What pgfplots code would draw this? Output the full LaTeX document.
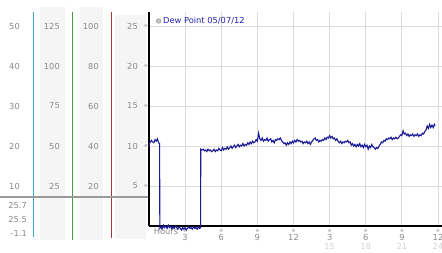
\documentclass[border=0pt]{standalone}
\usepackage{fontspec}
\setmainfont{DejaVu Sans}
\usepackage{pgfplots}
\pgfplotsset{compat=1.18}
\definecolor{lblgray}{HTML}{8A8A8A}
\definecolor{faint}{HTML}{D4D4D4}
\definecolor{gridc}{HTML}{DCDCDC}
\definecolor{colshade}{HTML}{F5F5F5}
\definecolor{colblue}{HTML}{3BA3D0}
\definecolor{colgreen}{HTML}{3FA33F}
\definecolor{colred}{HTML}{A83434}
\definecolor{hgray}{HTML}{9A9A9A}
\definecolor{navy}{HTML}{1A1A96}
\definecolor{legblue}{HTML}{2323A8}
\newcommand\lblfont{\fontsize{8.3}{10}\selectfont}
\newcommand\tkfont{\fontsize{4.5}{5}\selectfont}
\newcommand\xl[1]{\setbox0\hbox{#1}\hbox to \wd0{\hss\raisebox{7.5pt}[0pt][0pt]{\tkfont\textcolor{lblgray}{※}}\hss}\kern-\wd0\box0}
\pgfplotsset{
  leftcol/.style={
    scale only axis, width=1pt, height=214pt, anchor=south west,
    ymin=0, xmin=0, xmax=1, axis x line=none, axis y line=left,
    y axis line style={draw=none}, major tick length=0pt,
    yticklabel style={anchor=east, inner sep=0pt, text=lblgray, font=\lblfont},
  }
}
\begin{document}
\begin{tikzpicture}
\useasboundingbox (0pt,0pt) rectangle (442pt,253pt);
\fill[white] (0pt,0pt) rectangle (442pt,253pt);
% shaded columns
\fill[colshade] (40pt,13pt) rectangle (65pt,246pt);
\fill[colshade] (80pt,13pt) rectangle (103pt,246pt);
\fill[colshade] (115pt,14pt) rectangle (146pt,238pt);
% coloured separators
\draw[colblue, line width=1pt] (33pt,16pt) -- (33pt,241pt);
\draw[colgreen, line width=1pt] (72.5pt,13pt) -- (72.5pt,241pt);
\draw[colred, line width=1pt] (111pt,15pt) -- (111pt,241pt);
% gray horizontal line
\draw[hgray, line width=1.8pt] (0pt,56pt) -- (148pt,56pt);
% bottom values
\node[anchor=east, inner sep=0pt, text=lblgray, font=\lblfont] at (27pt,48pt) {25.7};
\node[anchor=east, inner sep=0pt, text=lblgray, font=\lblfont] at (27pt,34pt) {25.5};
\node[anchor=east, inner sep=0pt, text=lblgray, font=\lblfont] at (27pt,20pt) {-1.1};

\begin{axis}[leftcol, at={(20pt,27pt)}, ymax=53.5, ytick={10,20,30,40,50}, yticklabels={10,20,30,40,50}]
\end{axis}
\begin{axis}[leftcol, at={(60pt,27pt)}, ymax=133.75, ytick={25,50,75,100,125}, yticklabels={25,50,75,100,125}]
\end{axis}
\begin{axis}[leftcol, at={(99pt,27pt)}, ymax=107, ytick={20,40,60,80,100}, yticklabels={20,40,60,80,100}]
\end{axis}
\begin{axis}[leftcol, at={(138pt,27pt)}, ymax=26.75, ytick={5,10,15,20,25}, yticklabels={5,10,15,20,25}]
\end{axis}

\begin{axis}[
  scale only axis, width=293pt, height=214pt,
  at={(149pt,27pt)}, anchor=south west,
  xmin=0, xmax=24.33, ymin=0, ymax=26.75,
  clip=false,
  axis x line=bottom, axis y line=left,
  axis line style={-, black, line width=1.1pt},
  major tick length=0pt,
  xtick={3,6,9,12,15,18,21,24},
  xticklabels={\xl{3},\xl{6},\xl{9},\xl{12},\xl{3},\xl{6},\xl{9},\xl{12}},
  xticklabel style={anchor=north, inner sep=0pt, yshift=-8pt, text=lblgray, font=\lblfont},
  extra x ticks={15,18,21,24},
  extra x tick labels={15,18,21,24},
  extra x tick style={grid=none, xticklabel style={yshift=-9pt, text=faint}},
  ytick={5,10,15,20,25},
  yticklabels={※,※,※,※,※},
  yticklabel style={anchor=east, inner sep=0pt, xshift=-1pt, text=lblgray, font=\tkfont},
  xmajorgrids, ymajorgrids,
  major grid style={gridc, line width=0.9pt},
  legend style={at={(0.0239,0.958)}, anchor=west, draw=none, fill=none, inner sep=0pt,
    font=\lblfont, text=legblue, legend cell align=left},
  legend image code/.code={\draw[draw=gray!80, fill=gray!45, line width=0.6pt] (2.6pt,0pt) circle (2.2pt);},
]
\addplot[navy, line width=1.1pt, mark=none] coordinates {
(0.00,9.9) (0.05,10.3) (0.10,10.5) (0.20,10.7) (0.30,10.5) (0.40,10.4) (0.50,10.8) (0.60,10.6) (0.70,10.9) (0.80,10.4) (0.88,10.3)
(0.90,-0.3) (1.0,-0.1) (1.1,-0.4) (1.2,0.1) (1.3,-0.2) (1.4,0.0) (1.5,-0.3) (1.6,0.1) (1.7,-0.2) (1.8,0.0) (1.9,-0.4)
(2.0,-0.1) (2.1,-0.3) (2.2,0.0) (2.3,-0.2) (2.4,-0.4) (2.5,-0.1) (2.6,-0.3) (2.7,-0.5) (2.8,-0.2) (2.9,-0.4)
(3.0,-0.2) (3.1,-0.5) (3.2,-0.3) (3.3,-0.1) (3.4,-0.3) (3.5,-0.2) (3.6,-0.4) (3.7,-0.1) (3.8,-0.3) (3.9,-0.2)
(4.0,-0.4) (4.1,-0.1) (4.2,-0.3) (4.28,-0.2)
(4.30,9.6) (4.4,9.5) (4.5,9.6) (4.6,9.4) (4.7,9.5) (4.8,9.3) (4.9,9.6) (5.0,9.4) (5.1,9.5) (5.2,9.3) (5.3,9.4)
(5.4,9.6) (5.5,9.3) (5.6,9.5) (5.7,9.4) (5.8,9.7) (5.9,9.5) (6.0,9.4) (6.1,9.8) (6.2,9.5) (6.3,9.7) (6.4,9.6)
(6.5,9.9) (6.6,9.6) (6.7,9.8) (6.8,10.0) (6.9,9.7) (7.0,9.9) (7.1,10.1) (7.2,9.8) (7.3,10.0) (7.4,10.2) (7.5,9.9)
(7.6,10.1) (7.7,10.0) (7.8,10.3) (7.9,10.0) (8.0,10.2) (8.1,10.1) (8.2,10.4) (8.3,10.2) (8.4,10.5) (8.5,10.3)
(8.6,10.6) (8.7,10.4) (8.8,10.5) (8.9,10.8) (9.0,10.6) (9.1,11.6) (9.2,10.9) (9.3,10.7) (9.4,11.0) (9.5,10.6)
(9.6,10.8) (9.7,10.7) (9.8,11.0) (9.9,10.6) (10.0,10.8) (10.1,10.9) (10.2,10.5) (10.3,10.7) (10.4,10.4) (10.5,10.8)
(10.6,10.7) (10.7,10.9) (10.8,10.8) (10.9,11.0) (11.0,10.7) (11.1,10.5) (11.2,10.3) (11.3,10.4) (11.4,10.1)
(11.5,10.4) (11.6,10.2) (11.7,10.5) (11.8,10.3) (11.9,10.6) (12.0,10.4) (12.1,10.7) (12.2,10.5) (12.3,10.8)
(12.4,10.6) (12.5,10.7) (12.6,10.5) (12.7,10.6) (12.8,10.3) (12.9,10.5) (13.0,10.4) (13.1,10.6) (13.2,10.3)
(13.3,10.5) (13.4,10.2) (13.5,10.5) (13.6,10.7) (13.7,10.9) (13.8,11.0) (13.9,10.7) (14.0,10.8) (14.1,10.5)
(14.2,10.7) (14.3,10.6) (14.4,10.8) (14.5,10.7) (14.6,11.0) (14.7,10.8) (14.8,11.1) (14.9,11.0) (15.0,11.3)
(15.1,11.0) (15.2,11.2) (15.3,10.9) (15.4,11.0) (15.5,10.7) (15.6,10.9) (15.7,10.6) (15.8,10.4) (15.9,10.6)
(16.0,10.3) (16.1,10.5) (16.2,10.4) (16.3,10.6) (16.4,10.5) (16.5,10.7) (16.6,10.4) (16.7,10.5) (16.8,10.1)
(16.9,10.3) (17.0,10.0) (17.1,10.2) (17.2,9.9) (17.3,10.2) (17.4,10.0) (17.5,10.3) (17.6,9.9) (17.7,10.1)
(17.8,9.8) (17.9,10.2) (18.0,9.9) (18.1,10.1) (18.2,9.6) (18.3,10.0) (18.4,9.8) (18.5,10.2) (18.6,9.9)
(18.7,9.8) (18.8,9.6) (18.9,9.8) (19.0,9.7) (19.1,10.0) (19.2,10.2) (19.3,10.5) (19.4,10.4) (19.5,10.7)
(19.6,10.6) (19.7,10.9) (19.8,10.8) (19.9,11.0) (20.0,10.9) (20.1,11.1) (20.2,10.8) (20.3,11.0) (20.4,10.9)
(20.5,11.1) (20.6,10.9) (20.7,11.0) (20.8,11.2) (20.9,11.4) (21.0,11.3) (21.1,11.9) (21.2,11.5) (21.3,11.6)
(21.4,11.3) (21.5,11.5) (21.6,11.2) (21.7,11.4) (21.8,11.3) (21.9,11.5) (22.0,11.2) (22.1,11.4) (22.2,11.3)
(22.3,11.5) (22.4,11.2) (22.5,11.4) (22.6,11.3) (22.7,11.6) (22.8,11.5) (22.9,11.8) (23.0,12.0) (23.1,12.5)
(23.2,12.2) (23.3,12.7) (23.4,12.3) (23.5,12.6) (23.6,12.3) (23.7,12.7) (23.75,12.5)
};
\addlegendentry{Dew Point 05/07/12}
\end{axis}
\node[text=lblgray, font=\lblfont, inner sep=0pt] at (166pt,21pt) {Hours};
\end{tikzpicture}
\end{document}
